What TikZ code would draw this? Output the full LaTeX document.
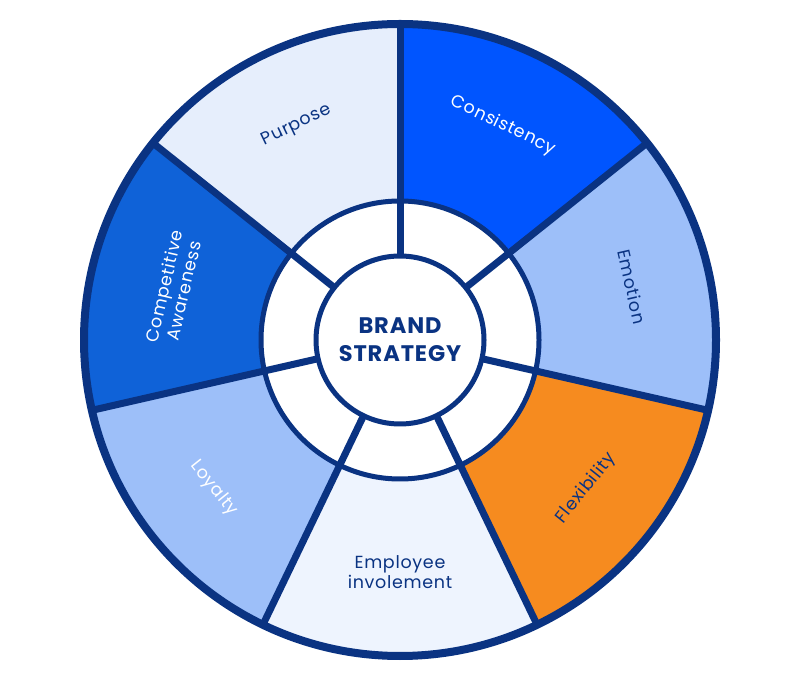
\documentclass[tikz,border=0pt]{standalone}
\usepackage{fontspec}
\setmainfont{Poppins}[LetterSpace=4]
\usetikzlibrary{calc}
\definecolor{navy}{HTML}{0A3382}
\definecolor{cA}{HTML}{E6EEFC}
\definecolor{cB}{HTML}{0F62D8}
\definecolor{cC}{HTML}{9DBFF9}
\definecolor{cD}{HTML}{EEF4FE}
\definecolor{cE}{HTML}{F68B1F}
\definecolor{cF}{HTML}{0055FF}
\tikzset{lbl/.style={font=\fontsize{17.5}{20}\selectfont, align=center, text=navy},
 spoke/.style={draw=navy, line width=7pt}}
\begin{document}
\begin{tikzpicture}[x=1pt,y=1pt]
\useasboundingbox (0,0) rectangle (800,677);
\coordinate (c) at (400,337);
\def\R{316}
\foreach \a/\col in {90/cA,141.43/cB,192.86/cC,244.29/cD,295.71/cE,347.14/cC,398.57/cF}{
  \fill[\col] (c) -- ++(\a:\R) arc[start angle=\a, end angle=\a+51.43, radius=\R] -- cycle;}
\fill[white] (c) circle (139);
\foreach \a in {90,141.43,192.86,244.29,295.71,347.14,398.57}{
  \draw[spoke] (c) ++(\a:84) -- ++(\a:234);}
\draw[navy, line width=8pt] (c) circle (\R);
\draw[navy, line width=5pt] (c) circle (139);
\node[draw=navy, line width=5pt, fill=white, circle, minimum size=168pt, inner sep=0pt,
  font=\bfseries\fontsize{22.5}{28}\selectfont, text=navy, align=center] (center) at (c) {BRAND\\STRATEGY};
\node[lbl, rotate=25.7] (p) at ($(c)+(115.7:238)$) {Purpose};
\node[lbl, text=white, rotate=77.1] (ca) at ($(c)+(167.1:232)$) {Competitive\\Awareness};
\node[lbl, text=white, rotate=-51.4] (l) at ($(c)+(218.6:238)$) {Loyalty};
\node[lbl] (e) at ($(c)+(270:232)$) {Employee\\involement};
\node[lbl, rotate=51.4] (f) at ($(c)+(321.4:238)$) {Flexibility};
\node[lbl, rotate=-77.1] (em) at ($(c)+(12.9:238)$) {Emotion};
\node[lbl, text=white, rotate=-25.7] (co) at ($(c)+(64.3:238)$) {Consistency};
\end{tikzpicture}
\end{document}
